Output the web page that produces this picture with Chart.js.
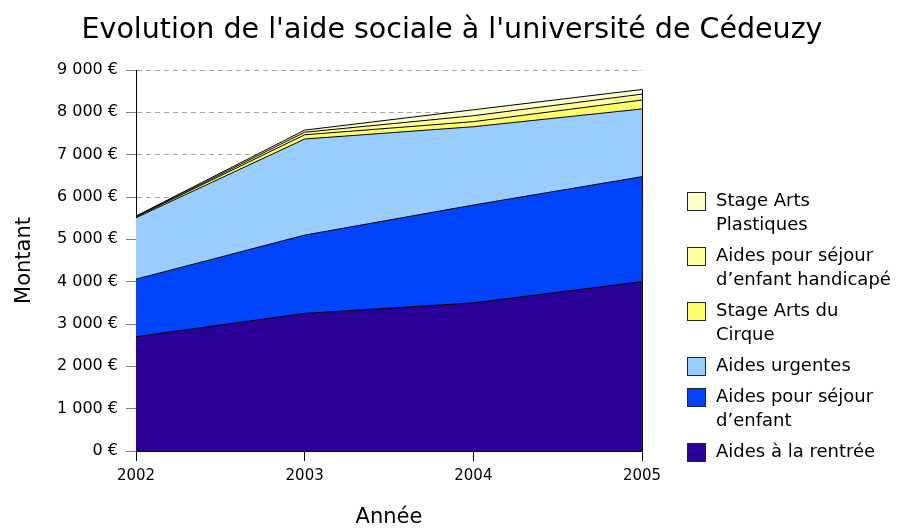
<!DOCTYPE html>
<html lang="fr">
<head>
<meta charset="utf-8">
<title>Aide sociale</title>
<script src="https://cdn.jsdelivr.net/npm/chart.js"></script>
<style>
  html, body { margin: 0; padding: 0; background: #fff; }
  #wrap { width: 897px; height: 529px; }
</style>
</head>
<body>
<div id="wrap"><canvas id="chart" width="897" height="529"></canvas></div>
<script>
const FONT = "'DejaVu Sans', Verdana, sans-serif"

const chartTitle = "Evolution de l'aide sociale à l'université de Cédeuzy"
const years = ['2002', '2003', '2004', '2005']

// montants par poste, du bas vers le haut de la pile
const rentree = [2700, 3250, 3500, 4000]
const sejourEnfant = [1360, 1850, 2310, 2480]
const urgentes = [1450, 2270, 1850, 1600]
const artsCirque = [20, 100, 120, 210]
const sejourHandicape = [10, 60, 140, 140]
const artsPlastiques = [10, 50, 140, 110]

const seriesLabels = [
  ['Aides à la rentrée'],
  ['Aides pour séjour', 'd’enfant'],
  ['Aides urgentes'],
  ['Stage Arts du', 'Cirque'],
  ['Aides pour séjour', 'd’enfant handicapé'],
  ['Stage Arts', 'Plastiques'],
]
const seriesValues = [rentree, sejourEnfant, urgentes, artsCirque, sejourHandicape, artsPlastiques]
const seriesColors = ['#2a0096', '#0044ff', '#99ccff', '#ffff66', '#ffff99', '#ffffcc']

const yTicks = [0, 1000, 2000, 3000, 4000, 5000, 6000, 7000, 8000, 9000]

const euro = (v) => String(v).replace(/\B(?=(\d{3})+(?!\d))/g, ' ') + ' €'

// titre + légende à droite + bord droit de la zone empilée
const decor = {
  id: 'decor',
  afterDraw(chart) {
    const ctx = chart.ctx
    const { x, y } = chart.scales
    ctx.save()

    // bord vertical en 2005
    const last = years.length - 1
    const total = seriesValues.reduce((s, arr) => s + arr[last], 0)
    const xr = Math.round(x.getPixelForValue(last)) + 0.5
    ctx.strokeStyle = '#000'
    ctx.lineWidth = 1
    ctx.beginPath()
    ctx.moveTo(xr, y.getPixelForValue(total))
    ctx.lineTo(xr, y.getPixelForValue(0))
    ctx.stroke()

    ctx.fillStyle = '#000'
    ctx.textBaseline = 'middle'
    ctx.font = '28.5px ' + FONT
    ctx.textAlign = 'center'
    ctx.fillText(chartTitle, 452, 31)

    ctx.font = '18px ' + FONT
    ctx.textAlign = 'left'
    const lineH = 24
    const gap = 31
    let ly = 201
    for (let i = seriesLabels.length - 1; i >= 0; i--) {
      const lines = seriesLabels[i]
      ctx.fillStyle = seriesColors[i]
      ctx.fillRect(687, ly - 9, 19, 19)
      ctx.strokeStyle = '#222'
      ctx.strokeRect(687.5, ly - 8.5, 18, 18)
      ctx.fillStyle = '#000'
      lines.forEach((t, k) => ctx.fillText(t, 716, ly + k * lineH))
      ly += (lines.length - 1) * lineH + gap
    }
    ctx.restore()
  },
}

const datasets = seriesValues.map((vals, i) => ({
  label: seriesLabels[i].join(' '),
  data: vals,
  backgroundColor: seriesColors[i],
  borderColor: '#000',
  borderWidth: 1,
  fill: i === 0 ? 'origin' : '-1',
  pointRadius: 0,
  tension: 0,
}))

new Chart(document.getElementById('chart'), {
  type: 'line',
  data: { labels: years, datasets },
  plugins: [decor],
  options: {
    responsive: false,
    animation: false,
    layout: { padding: { top: 70, right: 255, left: 0, bottom: 0 } },
    plugins: {
      legend: { display: false },
      title: { display: false },
      tooltip: { enabled: false },
    },
    scales: {
      x: {
        offset: false,
        grid: { drawOnChartArea: false, tickLength: 10, tickColor: '#000' },
        border: { color: '#000' },
        ticks: { color: '#000', font: { family: FONT, size: 15 }, padding: 6, maxRotation: 0 },
        title: { display: true, text: 'Année', color: '#000', font: { family: FONT, size: 21 }, padding: { top: 0, bottom: -1 } },
        afterFit(scale) { scale.height = 78 },
      },
      y: {
        stacked: true,
        min: 0,
        max: 9000,
        afterBuildTicks(scale) { scale.ticks = yTicks.map((v) => ({ value: v })) },
        grid: { color: '#a6a6a6', tickLength: 10, tickColor: '#808080', tickBorderDash: [] },
        border: { color: '#000', dash: [5, 4] },
        ticks: { color: '#000', font: { family: FONT, size: 16 }, padding: 8, callback: (v) => euro(v) },
        title: { display: true, text: 'Montant', color: '#000', font: { family: FONT, size: 21 }, padding: { top: 12, bottom: 0 } },
        afterFit(scale) { scale.width = 136 },
      },
    },
  },
})
</script>
</body>
</html>
